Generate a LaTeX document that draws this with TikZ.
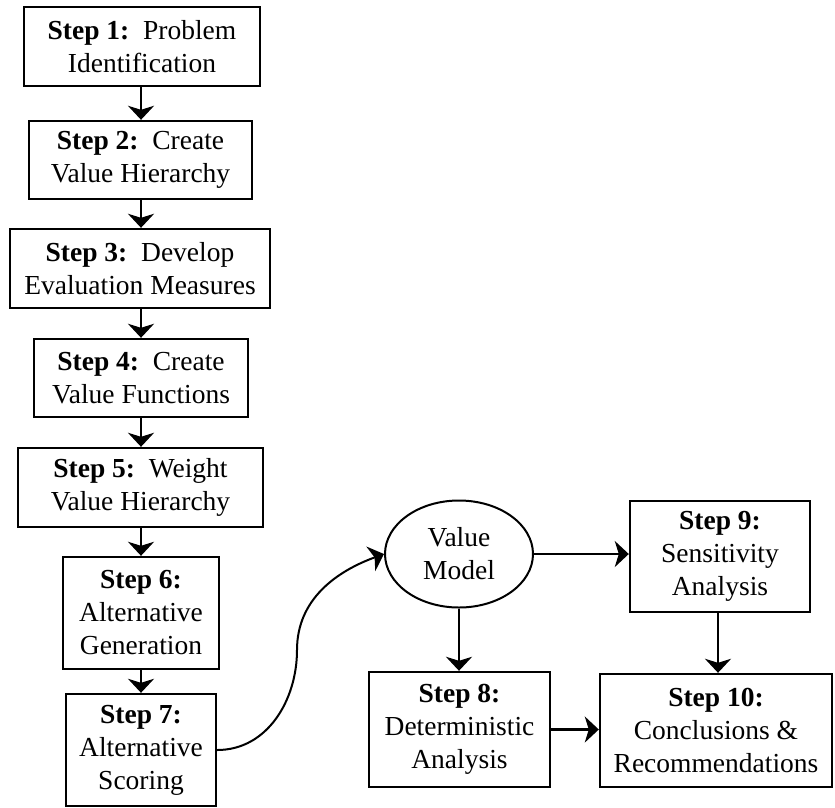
\documentclass[tikz,border=0pt]{standalone}
\usepackage{fontspec}
\setmainfont{Liberation Serif}
\usetikzlibrary{arrows.meta,shapes.geometric}
\begin{document}
\begin{tikzpicture}[x=1pt,y=-1pt,
  every node/.style={font=\fontsize{27.5}{33}\selectfont},
  stepbox/.style={draw,line width=2.4pt,inner sep=0pt,align=center},
  valbox/.style={draw,ellipse,line width=2pt,inner sep=0pt,align=center},
  conn/.style={line width=2.4pt,-{Stealth[length=14pt,width=26pt,inset=4pt]}},
  curveconn/.style={line width=2pt,-{Stealth[length=14pt,width=26pt,inset=4pt]}}]
\useasboundingbox (0,0) rectangle (835,807);
\node[stepbox,minimum width=236pt,minimum height=79pt] (s1) at (142,46.5) {\textbf{Step 1:}\ \ Problem\\Identification};
\node[stepbox,minimum width=223pt,minimum height=78pt] (s2) at (140.5,160) {\textbf{Step 2:}\ \ Create\\Value Hierarchy};
\node[stepbox,minimum width=260pt,minimum height=79pt] (s3) at (140,268.5) {\textbf{Step 3:}\ \ Develop\\Evaluation Measures};
\node[stepbox,minimum width=214pt,minimum height=78pt] (s4) at (141,378) {\textbf{Step 4:}\ \ Create\\Value Functions};
\node[stepbox,minimum width=245pt,minimum height=79pt] (s5) at (140.5,487.5) {\textbf{Step 5:}\ \ Weight\\Value Hierarchy};
\node[stepbox,minimum width=156pt,minimum height=112pt] (s6) at (141,613) {\textbf{Step 6:}\\Alternative\\Generation};
\node[stepbox,minimum width=150pt,minimum height=112pt] (s7) at (141,750) {\textbf{Step 7:}\\Alternative\\Scoring};
\node[valbox,minimum width=148pt,minimum height=107pt] (vm) at (459,554) {Value\\Model};
\node[stepbox,minimum width=180pt,minimum height=111pt] (s9) at (720,556.5) {\textbf{Step 9:}\\Sensitivity\\Analysis};
\node[stepbox,minimum width=181pt,minimum height=115pt] (s8) at (459.5,729.5) {\textbf{Step 8:}\\Deterministic\\Analysis};
\node[stepbox,minimum width=232pt,minimum height=113pt] (s10) at (716,730.5) {\textbf{Step 10:}\\Conclusions \&\\Recommendations};
\coordinate (mid) at (297,650);
\coordinate (colx) at (141,0);
\draw[conn] (s1.south -| colx) -- (s2.north -| colx);
\draw[conn] (s2.south -| colx) -- (s3.north -| colx);
\draw[conn] (s3.south -| colx) -- (s4.north -| colx);
\draw[conn] (s4.south -| colx) -- (s5.north -| colx);
\draw[conn] (s5.south -| colx) -- (s6.north -| colx);
\draw[conn] (s6.south -| colx) -- (s7.north -| colx);
\draw[curveconn] (s7.east) to[out=0,in=-90] (mid) to[out=90,in=200] (vm.west);
\draw[conn] (vm.east) -- (s9.west |- vm.east);
\draw[conn] (vm.south) -- (s8.north -| vm.south);
\draw[conn] (s9.south -| 718,0) -- (s10.north -| 718,0);
\draw[conn] (s8.east) -- (s10.west |- s8.east);
\end{tikzpicture}
\end{document}
